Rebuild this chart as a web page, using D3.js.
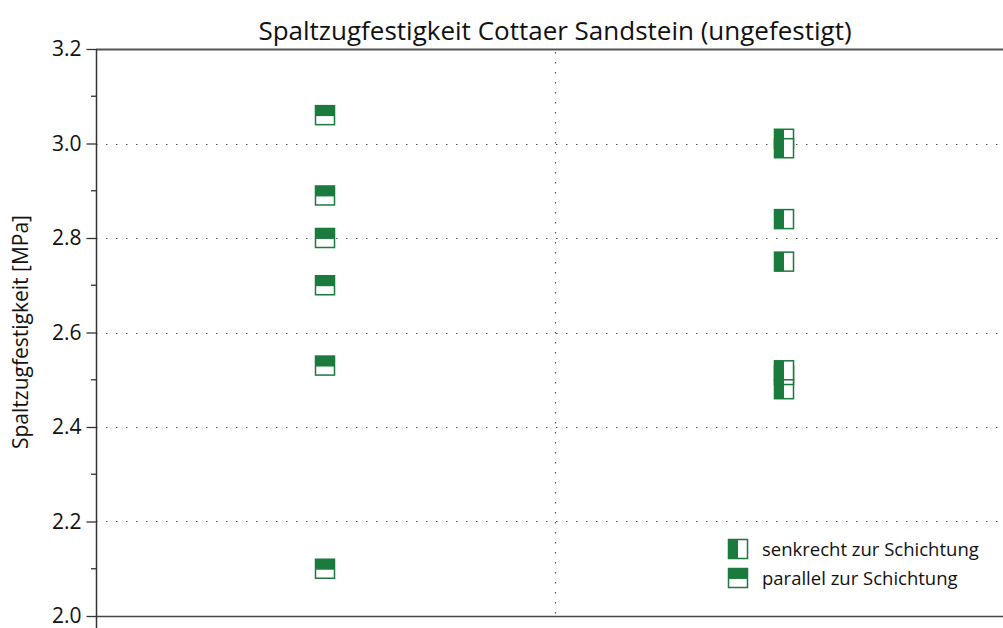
<!DOCTYPE html>
<html>
<head>
<meta charset="utf-8">
<script src="https://cdn.jsdelivr.net/npm/d3@7"></script>
<style>
  html, body { margin: 0; padding: 0; background: #fff; }
  svg { display: block; font-family: "Open Sans", "Noto Sans", sans-serif; }
</style>
</head>
<body>
<svg id="chart" width="1003" height="628"></svg>
<script>
// Splitting tensile strength, Cottaer sandstone (untreated)
const categories = [1, 2];
const parallelValues = [3.06, 2.89, 2.80, 2.70, 2.53, 2.10];     // loaded parallel to bedding
const senkrechtValues = [3.01, 2.99, 2.84, 2.75, 2.48, 2.51, 2.52]; // loaded perpendicular to bedding
const yTicks = [2.0, 2.2, 2.4, 2.6, 2.8, 3.0, 3.2];
const yMinorTicks = [2.1, 2.3, 2.5, 2.7, 2.9, 3.1];
const yGrid = [2.2, 2.4, 2.6, 2.8, 3.0];
const xGrid = [1.5];
const legendLabels = ["senkrecht zur Schichtung", "parallel zur Schichtung"];

const green = "#1b7a3d";
const svg = d3.select("#chart");

const x = d3.scaleLinear().domain([0.5, 2.5]).range([95.5, 1013.5]);
const y = d3.scaleLinear().domain([2.0, 3.2]).range([616, 49]);

// dotted grid
svg.append("g").selectAll("line").data(yGrid).join("line")
  .attr("x1", 96).attr("x2", 1003)
  .attr("y1", d => Math.round(y(d)) + 0.5).attr("y2", d => Math.round(y(d)) + 0.5)
  .attr("stroke", "#555").attr("stroke-width", 1.2).attr("stroke-dasharray", "1.5,8.5");
svg.append("g").selectAll("line").data(xGrid).join("line")
  .attr("x1", d => Math.round(x(d)) + 0.5).attr("x2", d => Math.round(x(d)) + 0.5)
  .attr("y1", 52).attr("y2", 616)
  .attr("stroke", "#555").attr("stroke-width", 1.2).attr("stroke-dasharray", "1.5,8.5");

// frame: top and bottom border lines
svg.append("line").attr("x1", 96).attr("x2", 1003).attr("y1", 49.5).attr("y2", 49.5)
  .attr("stroke", "#555").attr("stroke-width", 2);
svg.append("line").attr("x1", 96).attr("x2", 1003).attr("y1", 616.5).attr("y2", 616.5)
  .attr("stroke", "#444").attr("stroke-width", 1.5);

// left axis
const yAxis = d3.axisLeft(y).tickValues(yTicks).tickFormat(d3.format(".1f")).tickSize(10).tickPadding(5);
const gAxis = svg.append("g").attr("transform", "translate(96.5,0)").call(yAxis);
gAxis.attr("font-family", "'Open Sans', sans-serif").attr("font-size", 21);
gAxis.select(".domain").attr("stroke", "#333").attr("stroke-width", 1.5).attr("d", "M0,49V628");
gAxis.selectAll(".tick line").attr("stroke", "#333").attr("stroke-width", 1.3);
gAxis.selectAll(".tick text").attr("fill", "#111");
svg.append("g").selectAll("line").data(yMinorTicks).join("line")
  .attr("x1", 91).attr("x2", 96.5)
  .attr("y1", d => y(d)).attr("y2", d => y(d))
  .attr("stroke", "#333").attr("stroke-width", 1.3);

// markers: half-filled squares
const S = 19;
function marker(g, kind) {
  g.append("rect").attr("x", -S / 2).attr("y", -S / 2).attr("width", S).attr("height", S)
    .attr("fill", "#fff").attr("stroke", green).attr("stroke-width", 1.5);
  if (kind === "parallel") {
    g.append("rect").attr("x", -S / 2).attr("y", -S / 2).attr("width", S).attr("height", S * 0.55)
      .attr("fill", green);
  } else {
    g.append("rect").attr("x", -S / 2).attr("y", -S / 2).attr("width", S * 0.5).attr("height", S)
      .attr("fill", green);
  }
}

svg.append("g").selectAll("g").data(parallelValues).join("g")
  .attr("transform", d => `translate(${x(categories[0])},${y(d)})`)
  .each(function () { marker(d3.select(this), "parallel"); });

svg.append("g").selectAll("g").data(senkrechtValues).join("g")
  .attr("transform", d => `translate(${x(categories[1])},${y(d)})`)
  .each(function () { marker(d3.select(this), "senkrecht"); });

// legend
const legend = svg.append("g").attr("transform", "translate(738,0)");
[["senkrecht", 549], ["parallel", 578]].forEach(([kind, cy], i) => {
  const g = legend.append("g").attr("transform", `translate(0,${cy})`);
  marker(g, kind);
  legend.append("text").attr("x", 24).attr("y", cy + 6.5)
    .attr("font-size", 18.5).attr("fill", "#111").text(legendLabels[i]);
});

// title
svg.append("text").attr("x", 555).attr("y", 40).attr("text-anchor", "middle")
  .attr("font-size", 26).attr("fill", "#111")
  .text("Spaltzugfestigkeit Cottaer Sandstein (ungefestigt)");

// y label
svg.append("text").attr("transform", "translate(28,332) rotate(-90)")
  .attr("text-anchor", "middle").attr("font-size", 21).attr("fill", "#111")
  .text("Spaltzugfestigkeit [MPa]");
</script>
</body>
</html>
